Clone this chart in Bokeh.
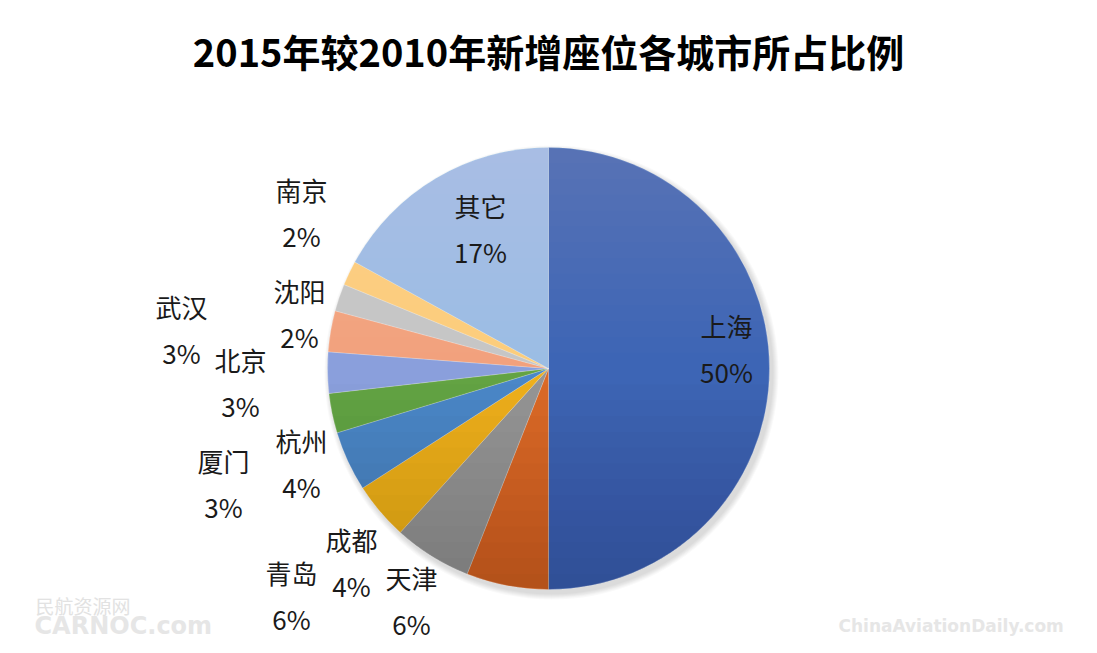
import math
from bokeh.plotting import figure
from bokeh.models import ColumnDataSource, Range1d
from bokeh.core.properties import value
from bokeh.embed import file_html
from bokeh.resources import INLINE

# ---------------- data ----------------
TITLE = "2015年较2010年新增座位各城市所占比例"
cities = ["上海", "天津", "青岛", "成都", "杭州", "厦门", "北京", "武汉", "沈阳", "南京", "其它"]
shares = [50.0, 6.0, 5.7, 4.2, 4.4, 2.9, 3.0, 3.0, 2.0, 1.8, 17.0]
pct_labels = ["50%", "6%", "6%", "4%", "4%", "3%", "3%", "3%", "2%", "2%", "17%"]
colors = ["#3D65B5", "#DB6A27", "#959595", "#EEB01C", "#4A87C8", "#63A343",
          "#8A9FDC", "#F2A17D", "#C6C6C6", "#FCCD7B", "#9BBDE4"]

# ---------------- layout (pixels) ----------------
W, H = 1089, 645
CX, CY = 548, H - 368          # pie centre
R = 221                         # pie radius
# label centre offsets from pie centre (dx right, dy up), layout only
label_offsets = [(178, 20), (-137, -232), (-257, -227), (-197, -194), (-247, -95),
                 (-325, -115), (-308, -14), (-367, 39), (-249, 55), (-247, 156), (-68, 140)]
LINE_GAP = 23                   # half distance between name and percentage

p = figure(width=W, height=H, output_backend="svg", toolbar_location=None,
           x_range=Range1d(0, W), y_range=Range1d(0, H), min_border=0,
           outline_line_color=None, background_fill_color="white",
           border_fill_color="white")
p.axis.visible = False
p.grid.visible = False

# soft shadow
for j in range(6):
    p.circle(x=CX + 3, y=CY - 4, radius=R + 6 - j, fill_color="black",
             fill_alpha=0.025, line_color=None)

# wedges (clockwise from 12 o'clock)
total = sum(shares)
starts, ends = [], []
acc = 0.0
for s in shares:
    a0 = acc / total * 2 * math.pi
    acc += s
    a1 = acc / total * 2 * math.pi
    starts.append(math.pi / 2 - a0)
    ends.append(math.pi / 2 - a1)
src = ColumnDataSource(dict(city=cities, share=shares, start=starts, end=ends, color=colors))
p.wedge(x=CX, y=CY, radius=R, start_angle="start", end_angle="end", direction="clock",
        fill_color="color", line_color="white", line_alpha=0.35, line_width=0.6, source=src)

# vertical shading (lighter on top, darker at bottom)
def segment(y_lo, y_hi, n=60):
    xs, ys = [], []
    for i in range(n + 1):
        y = y_lo + (y_hi - y_lo) * i / n
        dx = math.sqrt(max(R * R - (y - CY) ** 2, 0))
        xs.append(CX + dx); ys.append(y)
    for i in range(n, -1, -1):
        y = y_lo + (y_hi - y_lo) * i / n
        dx = math.sqrt(max(R * R - (y - CY) ** 2, 0))
        xs.append(CX - dx); ys.append(y)
    return xs, ys

K = 14
wx, wy, bx, by = [], [], [], []
for k in range(1, K + 1):
    y_cut = CY + R * k / K
    xs, ys = segment(y_cut, CY + R)
    wx.append(xs); wy.append(ys)
    y_cut2 = CY - R * k / K
    xs, ys = segment(CY - R, y_cut2)
    bx.append(xs); by.append(ys)
p.patches(xs=wx, ys=wy, fill_color="white", fill_alpha=0.012, line_color=None)
p.patches(xs=bx, ys=by, fill_color="black", fill_alpha=0.010, line_color=None)

# labels
font = value("Noto Sans CJK SC")
lx = [CX + dx for dx, dy in label_offsets]
ly = [CY + dy for dx, dy in label_offsets]
p.text(x=lx, y=[v + LINE_GAP for v in ly], text=cities, text_font=font,
       text_font_size="26px", text_color="#1a1a1a", text_align="center",
       text_baseline="middle")
p.text(x=lx, y=[v - LINE_GAP for v in ly], text=pct_labels, text_font=font,
       text_font_size="26px", text_color="#1a1a1a", text_align="center",
       text_baseline="middle")

# title
p.text(x=[CX], y=[H - 50], text=[TITLE], text_font=font, text_font_size="38px",
       text_font_style="bold", text_color="black", text_align="center",
       text_baseline="middle")

# faint watermarks
p.text(x=[35], y=[H - 605], text=["民航资源网"], text_font=font, text_font_size="19px",
       text_color="#E2E2E2", text_align="left", text_baseline="middle")
p.text(x=[34], y=[H - 625], text=["CARNOC.com"], text_font=value("DejaVu Sans"),
       text_font_size="24px", text_font_style="bold", text_color="#E6E6E6",
       text_align="left", text_baseline="middle")
p.text(x=[838], y=[H - 625], text=["ChinaAviationDaily.com"], text_font=value("DejaVu Sans"),
       text_font_size="17px", text_font_style="bold", text_color="#E6E6E6",
       text_align="left", text_baseline="middle")

open("out.html", "w").write(file_html(p, INLINE))
